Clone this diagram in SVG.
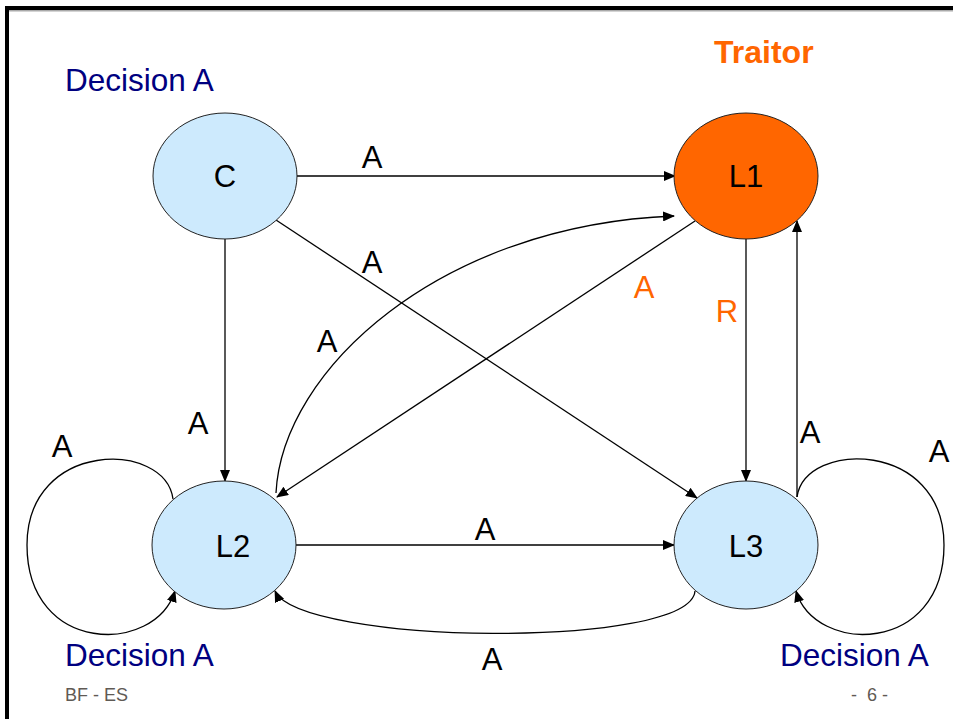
<svg xmlns="http://www.w3.org/2000/svg" width="953" height="719" viewBox="0 0 953 719">
<style>
.node{stroke:#222;stroke-width:1}
.blue{fill:#cdeafd}
.orange{fill:#ff6600}
.nl{font-family:"Liberation Sans",Arial,sans-serif;font-size:31px;fill:#000;text-anchor:middle}
.el{font-family:"Liberation Sans",Arial,sans-serif;font-size:31px;fill:#000;text-anchor:middle}
.eo{fill:#ff6600}
.dec{font-family:"Liberation Sans",Arial,sans-serif;font-size:31.5px;fill:#000080}
.foot{font-family:"Liberation Sans",Arial,sans-serif;font-size:18px;fill:#5f5a55}
.edge{fill:none;stroke:#000;stroke-width:1.3;marker-end:url(#arr)}
</style>
<defs>
<marker id="arr" markerUnits="userSpaceOnUse" markerWidth="12" markerHeight="10" viewBox="0 0 12 10" refX="11" refY="5" orient="auto">
<path d="M0,0 L12,5 L0,10 Z" fill="#000"/>
</marker>
</defs>
<rect width="953" height="719" fill="#fff"/>
<g id="frame">
<rect x="5" y="6" width="948" height="4" fill="#000"/>
<rect x="9" y="10" width="944" height="1.5" fill="#aaa"/>
<rect x="5" y="6" width="4" height="713" fill="#000"/>
</g>
<g id="connectors">
<path class="edge" d="M297,176 L675,176"/>
<path class="edge" d="M276,220 L697,498"/>
<path class="edge" d="M225,239 L225,481"/>
<path class="edge" d="M695,221 L277,497"/>
<path class="edge" d="M276,493 C282,370 440,225 674,216"/>
<path class="edge" d="M746,239 L746,481"/>
<path class="edge" d="M797,497 L797,221"/>
<path class="edge" d="M296,545 L674,545"/>
<path class="edge" d="M695,591 C690,650 300,645 275,591"/>
<path class="edge" d="M173,499 C165,440 27,440 27,545 C27,655 155,655 175,591"/>
<path class="edge" d="M797,497 C805,440 944,440 944,545 C944,655 815,655 796,591"/>
<text class="el" x="372" y="168">A</text>
<text class="el" x="372" y="273">A</text>
<text class="el" x="327" y="352">A</text>
<text class="el eo" x="644" y="298">A</text>
<text class="el eo" x="727" y="322">R</text>
<text class="el" x="198" y="434">A</text>
<text class="el" x="810" y="443">A</text>
<text class="el" x="62" y="457">A</text>
<text class="el" x="939" y="462">A</text>
<text class="el" x="485" y="540">A</text>
<text class="el" x="492" y="670">A</text>
</g>
<g id="C">
<ellipse class="node blue" cx="225" cy="176" rx="72" ry="63"/>
<text class="nl" x="225" y="187">C</text>
</g>
<g id="L1">
<ellipse class="node orange" cx="746" cy="176" rx="72" ry="63"/>
<text class="nl" x="746" y="187">L1</text>
</g>
<g id="L2">
<ellipse class="node blue" cx="224" cy="545" rx="72" ry="64"/>
<text class="nl" x="233" y="557">L2</text>
</g>
<g id="L3">
<ellipse class="node blue" cx="746" cy="545" rx="72" ry="64"/>
<text class="nl" x="746" y="557">L3</text>
</g>
<g id="annotations">
<text class="dec" x="65" y="91">Decision A</text>
<text x="714" y="63" font-family="'Liberation Sans',Arial,sans-serif" font-size="32" font-weight="bold" fill="#ff6600">Traitor</text>
<text class="dec" x="65" y="666">Decision A</text>
<text class="dec" x="780" y="666">Decision A</text>
<text class="foot" x="65" y="701">BF - ES</text>
<text class="foot" x="851" y="701" xml:space="preserve">-  6 -</text>
</g>
</svg>
